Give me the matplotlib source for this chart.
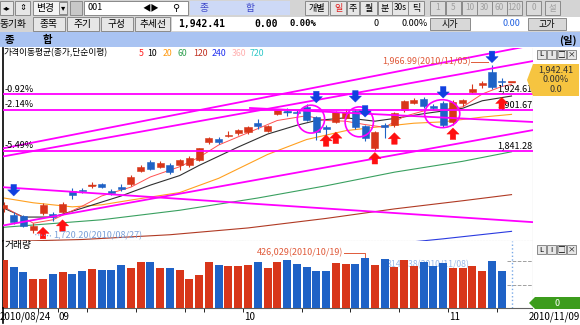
import numpy as np
import matplotlib
matplotlib.use('Agg')
import matplotlib.pyplot as plt
from matplotlib.patches import Rectangle, Ellipse, Polygon

plt.rcParams['font.family'] = ['Noto Sans CJK KR', 'DejaVu Sans']

# daily candles 2010/08/24 .. 2010/11/09 (trading days)
opens = [1757, 1747, 1745, 1725, 1750, 1749, 1752, 1783, 1784, 1790,
         1792, 1782, 1788, 1793, 1812, 1825, 1818, 1821, 1821, 1820,
         1828, 1854, 1859, 1863, 1867, 1869, 1883, 1871, 1896, 1900,
         1899, 1906, 1891, 1877, 1884, 1890, 1900, 1878, 1845, 1879,
         1879, 1901, 1912, 1918, 1907, 1912, 1884, 1912, 1928, 1938,
         1957, 1944, 1942.41]
highs = [1766, 1752, 1747, 1735, 1764, 1752, 1766, 1786, 1787, 1796,
         1794, 1785, 1792, 1806, 1820, 1828, 1826, 1823, 1830, 1834,
         1846, 1862, 1862, 1870, 1874, 1878, 1888, 1880, 1903, 1905,
         1901, 1910, 1893, 1880, 1900, 1903, 1903, 1880, 1871, 1882,
         1899, 1916, 1919, 1921, 1910, 1914, 1916, 1918, 1940, 1944,
         1966.99, 1948, 1942.41]
lows = [1752, 1734, 1729, 1720.2, 1747, 1738, 1748, 1771, 1779, 1787,
        1786, 1777, 1782, 1790, 1810, 1813, 1816, 1808, 1813, 1818,
        1826, 1852, 1852, 1862, 1864, 1866, 1874, 1869, 1894, 1893,
        1894, 1885, 1857, 1860, 1882, 1888, 1873, 1856, 1841.28, 1860,
        1877, 1899, 1910, 1905, 1901, 1876, 1880, 1908, 1926, 1934,
        1933, 1936, 1942.41]
closes = [1762, 1737, 1731, 1731, 1762, 1744, 1763, 1776, 1782, 1791,
          1788, 1780, 1785, 1803, 1818, 1815, 1823, 1810, 1828, 1831,
          1845, 1860, 1855, 1865, 1872, 1876, 1878, 1878, 1901, 1899,
          1897, 1887, 1869, 1874, 1898, 1899, 1876, 1860, 1869, 1876,
          1897, 1914, 1916, 1907, 1905, 1880, 1913, 1916, 1933, 1941,
          1935, 1942.41, 1942.41]
volumes = [415, 352, 309, 249, 249, 294, 309, 294, 314, 337,
           323, 329, 372, 343, 392, 392, 343, 343, 323, 249,
           286, 392, 366, 360, 357, 372, 397, 343, 397, 409,
           380, 352, 320, 320, 386, 380, 380, 426.029, 372, 420,
           349, 415, 357, 395, 357, 386, 343, 343, 363, 320,
           406, 314, 0]

# moving averages (day index, value)
ma5_days = [0, 3, 5, 8, 10, 13, 15, 18, 20, 22, 25, 28, 31, 33, 35, 37, 39, 41, 43, 45, 47, 49, 51, 52]
ma5_vals = [1759, 1735, 1740, 1760, 1775, 1788, 1803, 1818, 1832, 1850, 1868, 1886, 1893, 1886,
            1885, 1880, 1876, 1892, 1900, 1902, 1906, 1925, 1936, 1939]
ma10_days = [0, 2, 5, 8, 12, 15, 18, 20, 24, 27, 30, 32, 35, 38, 40, 43, 47, 49, 52]
ma10_vals = [1757, 1744, 1744, 1757, 1775, 1791, 1805, 1820, 1847, 1866, 1879, 1886, 1890, 1885,
             1889, 1896, 1904, 1915, 1922]
ma20_days = [0, 3, 7, 10, 13, 18, 22, 27, 31, 35, 38, 42, 45, 49, 52]
ma20_vals = [1772, 1765, 1759, 1762, 1769, 1780, 1801, 1836, 1858, 1871, 1876, 1882, 1884, 1891, 1895]
ma60_days = [0, 10, 18, 26, 33, 40, 47, 52]
ma60_vals = [1729, 1740, 1754, 1772, 1790, 1810, 1826, 1840]
ma120_days = [0, 8, 17, 25, 33, 40, 47, 52]
ma120_vals = [1708, 1711, 1718, 1728, 1742, 1756, 1768, 1777]
ma240_days = [38, 45, 52]
ma240_vals = [1702, 1712, 1723]

# user drawn lines
hlevels = [1924.61, 1901.67, 1841.28]
hlevel_pct = ['-0.92%', '-2.14%', '-5.49%']
trend_x0 = [-0.1, -0.1, -0.1, -0.1, 25.2]
trend_y0 = [1845.0, 1833.1, 1731.6, 1787.9, 1904.4]
trend_x1 = [54.2, 54.2, 54.2, 54.2, 54.2]
trend_y1 = [1996.9, 1973.4, 1871.9, 1736.5, 1883.8]
circ_day = [31.45, 36.4, 44.9]
circ_val = [1888, 1884, 1896]
circ_w = [2.8, 2.9, 3.6]
circ_h = [41, 44, 41]
down_day = [1, 32, 36, 37, 45, 50]
down_tip = [1775, 1912, 1913, 1891, 1919, 1971]
up_day = [4, 6, 33, 34, 38, 40, 46, 51]
up_tip = [1729, 1740, 1865, 1869, 1839, 1868, 1875, 1920]

month_days = [5.5, 24.5, 45.5]
month_labels = ['09', '10', '11']
monday_days = [3.5, 8.5, 13.5, 18.5, 20.5, 30.5, 35.5, 40.5, 50.5]
first_date = '2010/08/24'
last_date = '2010/11/09'

RED = '#d8361a'
BLUE = '#1f62c6'
MAG = '#ff00ff'

W, H = 580.0, 325.0
fig = plt.figure(figsize=(5.8, 3.25), dpi=100)
fig.patch.set_facecolor('white')


def fx(x):
    return x / W


def fy(y):
    return 1 - y / H


def box(x0, y0, x1, y1, fc, ec='none', lw=0.8):
    fig.add_artist(Rectangle((fx(x0), fy(y1)), (x1 - x0) / W, (y1 - y0) / H,
                             transform=fig.transFigure, fc=fc, ec=ec, lw=lw))


def txt(x, y, s, **kw):
    kw.setdefault('fontsize', 6.5)
    kw.setdefault('va', 'center')
    fig.text(fx(x), fy(y), s, **kw)


def btn(x0, y0, x1, y1, s, color='black', fc='#e6e6e6', fs=6.5):
    box(x0, y0, x1, y1, fc, '#8a8a8a', 0.7)
    txt((x0 + x1) / 2, (y0 + y1) / 2, s, ha='center', color=color, fontsize=fs)


# ---- toolbar rows
box(0, 0, 580, 32, '#d4d4d4')
btn(0, 1, 13, 15, '◂▸', fs=5.5)
btn(15, 1, 30, 15, '⇕', fs=6)
box(33, 1, 67, 15, '#f4f4f4', '#8a8a8a', 0.7)
txt(36, 8, '변경', fontsize=7)
btn(59, 2, 67, 14, '▾', fs=6)
box(70, 1, 82, 15, '#c8c8c8', '#8a8a8a', 0.7)
box(84, 1, 188, 15, 'white', '#8a8a8a', 0.7)
txt(88, 8, '001', fontsize=6.5)
txt(142, 8, '◀▶', fontsize=6)
txt(172, 8, '⚲', fontsize=7)
box(190, 1, 290, 15, '#cdd9f6')
txt(200, 8, '종', color='#3c46c8', fontsize=7)
txt(245, 8, '합', color='#3c46c8', fontsize=7)
btn(305, 1, 328, 15, '개별')
btn(330, 1, 346, 15, '일', color='#e02020')
btn(347, 1, 359, 15, '주')
btn(360, 1, 377, 15, '월')
btn(378, 1, 392, 15, '분')
btn(392, 1, 408, 15, '30s', fs=6)
btn(408, 1, 424, 15, '틱')
for x0, s in zip([430, 446, 462, 477, 492, 507, 526, 545], ['1', '5', '10', '30', '60', '120', '0', '설']):
    btn(x0, 1, x0 + 15, 15, s, color='#a0a0a0', fc='#dadada', fs=6)

txt(0, 24, '동기화', fontsize=7)
btn(33, 17, 65, 31, '종목', fs=7)
btn(67, 17, 99, 31, '주기', fs=7)
btn(101, 17, 133, 31, '구성', fs=7)
btn(135, 17, 170, 31, '추세선', fs=7)
box(172, 17, 580, 31, 'white')
txt(178, 24, '1,942.41', fontsize=7, weight='bold', family='DejaVu Sans Mono')
txt(254, 24, '0.00', fontsize=7, weight='bold', family='DejaVu Sans Mono')
txt(289, 24, '0.00%', fontsize=6.5, weight='bold', family='DejaVu Sans Mono')
txt(373, 24, '0', fontsize=6.5)
txt(401, 24, '0.00%', fontsize=6.5)
btn(430, 18, 470, 30, '시가', fc='#d8d8d8')
txt(520, 24, '0.00', fontsize=6.5, color='#2060e0', ha='right')
btn(528, 18, 566, 30, '고가', fc='#d8d8d8')

box(0, 32, 580, 47, '#a9c3f2')
txt(5, 40, '종', fontsize=7.5, weight='bold')
txt(43, 40, '합', fontsize=7.5, weight='bold')
txt(577, 40, '(일)', fontsize=7.5, weight='bold', ha='right')
box(533, 47, 580, 325, 'white')

# ---- price pane
ax = fig.add_axes([fx(3), fy(241), 530 / W, 193 / H])
ax.set_xlim(-0.1, 54.2)
ax.set_ylim(1708.8, 1992.6)
days = np.arange(len(closes))
o = np.array(opens)
c = np.array(closes)
cols = [RED if cc >= oo else BLUE for oo, cc in zip(o, c)]

ax.vlines(days, lows, highs, colors=cols, lw=0.8, zorder=3)
bot = np.minimum(o, c)
hgt = np.abs(c - o)
ax.bar(days, np.maximum(hgt, 1.0), bottom=bot, width=0.72, color=cols, edgecolor=cols, lw=0.4, zorder=4)
flat = hgt < 1.5
ax.hlines(c[flat], days[flat] - 0.4, days[flat] + 0.4, colors=np.array(cols)[flat], lw=1.0, zorder=4)

ax.plot(ma240_days, ma240_vals, color='#2a3ae0', lw=0.8, zorder=2)
ax.plot(ma120_days, ma120_vals, color='#b03a24', lw=0.8, zorder=2)
ax.plot(ma60_days, ma60_vals, color='#3aa060', lw=0.8, zorder=2)
ax.plot(ma20_days, ma20_vals, color='#ffa020', lw=0.8, zorder=2)
ax.plot(ma10_days, ma10_vals, color='#303030', lw=0.8, zorder=2)
ax.plot(ma5_days, ma5_vals, color='#ff5050', lw=0.7, zorder=2)

for lv, pct in zip(hlevels, hlevel_pct):
    ax.axhline(lv, color=MAG, lw=1.3, zorder=5)
    ax.text(0.05, lv + 1, pct, fontsize=6.5, va='bottom', ha='left', zorder=7)
    ax.text(54.1, lv + 1, '{:,.2f}'.format(lv), fontsize=6.5, va='bottom', ha='right', zorder=7)
for x0, y0, x1, y1 in zip(trend_x0, trend_y0, trend_x1, trend_y1):
    ax.plot([x0, x1], [y0, y1], color=MAG, lw=1.3, zorder=5)
for cd, cv, cw, ch in zip(circ_day, circ_val, circ_w, circ_h):
    ax.add_patch(Ellipse((cd, cv), cw, ch, fill=False, ec=MAG, lw=1.2, zorder=6))

aprops = 'simple,head_length=0.55,head_width=1.1,tail_width=0.5'
for d, t in zip(down_day, down_tip):
    ax.annotate('', xy=(d, t), xytext=(d, t + 17),
                arrowprops=dict(arrowstyle=aprops, fc='#1040e0', ec='#1040e0', lw=0.3,
                                shrinkA=0, shrinkB=0, mutation_scale=8), zorder=7)
for d, t in zip(up_day, up_tip):
    ax.annotate('', xy=(d, t), xytext=(d, t - 17),
                arrowprops=dict(arrowstyle=aprops, fc='#ff1010', ec='#ff1010', lw=0.3,
                                shrinkA=0, shrinkB=0, mutation_scale=8), zorder=7)

# high / low marks
ih = int(np.argmax(highs))
il = int(np.argmin(lows))
ax.text(ih - 2.2, highs[ih] + 5, '{:,.2f}(2010/11/05)'.format(highs[ih]), fontsize=6.5,
        color='#e05a3a', ha='right', va='center', zorder=7)
ax.plot([ih - 2.15, ih - 0.4], [highs[ih] + 5, highs[ih] + 5], color='#e05a3a', lw=0.7, zorder=7)
ax.text(il + 2.0, lows[il] - 4, '{:,.2f}(2010/08/27)'.format(lows[il]), fontsize=6.5,
        color='#7aa0d8', ha='left', va='center', zorder=7)
ax.plot([il + 0.2, il + 1.9], [lows[il] - 2, lows[il] - 4], color='#7aa0d8', lw=0.8, ls=':', zorder=7)

ax.yaxis.tick_right()
ax.set_yticks([1750, 1800, 1850, 1900])
ax.set_yticklabels(['1,750.00', '1,800.00', '1,850.00', '1,900.00'], fontsize=7)
ax.tick_params(axis='y', length=3, pad=2, width=0.6)
ax.set_xticks([])
ax.spines['top'].set_visible(False)
ax.spines['left'].set_color('black')
ax.spines['left'].set_linewidth(1.2)
ax.spines['right'].set_color('#a0a0a0')
ax.spines['bottom'].set_color('#b0b0b0')
ax.spines['bottom'].set_linestyle(':')

# MA legend
txt(3, 53, '가격이동평균(종가,단순이평)', fontsize=6.3)
for x0, s, col in zip([139, 147, 163, 178, 193, 212, 232, 250],
                      ['5', '10', '20', '60', '120', '240', '360', '720'],
                      ['#ff2020', 'black', '#ff9a10', '#30a050', '#c03020', '#2030f0', '#ffb0b0', '#30c8c8']):
    txt(x0, 53, s, fontsize=6.3, color=col)

# right side price box
fig.add_artist(Polygon([(fx(527), fy(80)), (fx(533), fy(64)), (fx(579), fy(64)),
                        (fx(579), fy(96)), (fx(533), fy(96))],
                       closed=True, transform=fig.transFigure, fc='#f6c440', ec='none'))
txt(556, 70, '{:,.2f}'.format(closes[-1]), fontsize=6.5, ha='center', color='#303030')
txt(556, 80, '0.00%', fontsize=6.5, ha='center', color='#303030')
txt(556, 89, '0.0', fontsize=6.5, ha='center', color='#303030')
for k, s in enumerate(['L', 'I', '□', '×']):
    btn(537 + 10 * k, 50, 546 + 10 * k, 59, s, fs=5.5)
    btn(537 + 10 * k, 245, 546 + 10 * k, 254, s, fs=5.5)

# ---- volume pane
vax = fig.add_axes([fx(3), fy(308), 530 / W, 67 / H])
vax.set_xlim(-0.1, 54.2)
vol = np.array(volumes) * 1000
vax.set_ylim(0, 575000)
iv = int(np.argmax(vol))
vax.text(47.7, 375000, '314,138(2010/11/08)', fontsize=6.3, color='#9ab8e8', ha='right', va='center', zorder=1)
vax.bar(days, vol, width=0.82, color=cols, zorder=3)
vax.hlines([200000, 400000], 51.5, 54.2, colors='#a0a0a0', linestyles='--', lw=0.7)
vax.axvline(52, color='#7aaae8', ls=':', lw=1.0)
vax.text(iv - 2.2, vol[iv] * 1.11, '{:,.0f}(2010/10/19)'.format(vol[iv]), fontsize=6.5,
         color='#e05a3a', ha='right', va='center', zorder=5)
vax.plot([iv - 2.15, iv, iv], [vol[iv] * 1.11, vol[iv] * 1.11, vol[iv] * 1.02],
         color='#e05a3a', lw=0.7, zorder=5)
vax.text(0.05, 540000, '거래량', fontsize=7, va='center', zorder=5)

vax.yaxis.tick_right()
vax.set_yticks([200000, 400000])
vax.set_yticklabels(['200,000', '400,000'], fontsize=7)
vax.tick_params(axis='y', length=3, pad=2, width=0.6)
vax.set_xticks(monday_days + month_days)
vax.set_xticklabels([])
vax.tick_params(axis='x', length=3, width=0.6, direction='out')
vax.spines['top'].set_visible(False)
vax.spines['left'].set_color('black')
vax.spines['left'].set_linewidth(1.2)
vax.spines['right'].set_color('#a0a0a0')
vax.spines['bottom'].set_color('#606060')

fig.add_artist(Polygon([(fx(529), fy(303)), (fx(535), fy(297)), (fx(580), fy(297)),
                        (fx(580), fy(309)), (fx(535), fy(309))],
                       closed=True, transform=fig.transFigure, fc='#3c9c1c', ec='none'))
txt(557, 303, '0', fontsize=6.5, ha='center', color='white')

# date axis
for d, s in zip(month_days, month_labels):
    vax.text(d + 0.1, -0.06, s, transform=vax.get_xaxis_transform(), fontsize=7, ha='left', va='top')
txt(0, 317, first_date, fontsize=7)
txt(580, 317, last_date, fontsize=7, ha='right')
fig.add_artist(plt.Line2D([fx(3), fx(3)], [fy(308), fy(323)], transform=fig.transFigure, color='black', lw=1.2))

fig.savefig('out.png', dpi=100)
